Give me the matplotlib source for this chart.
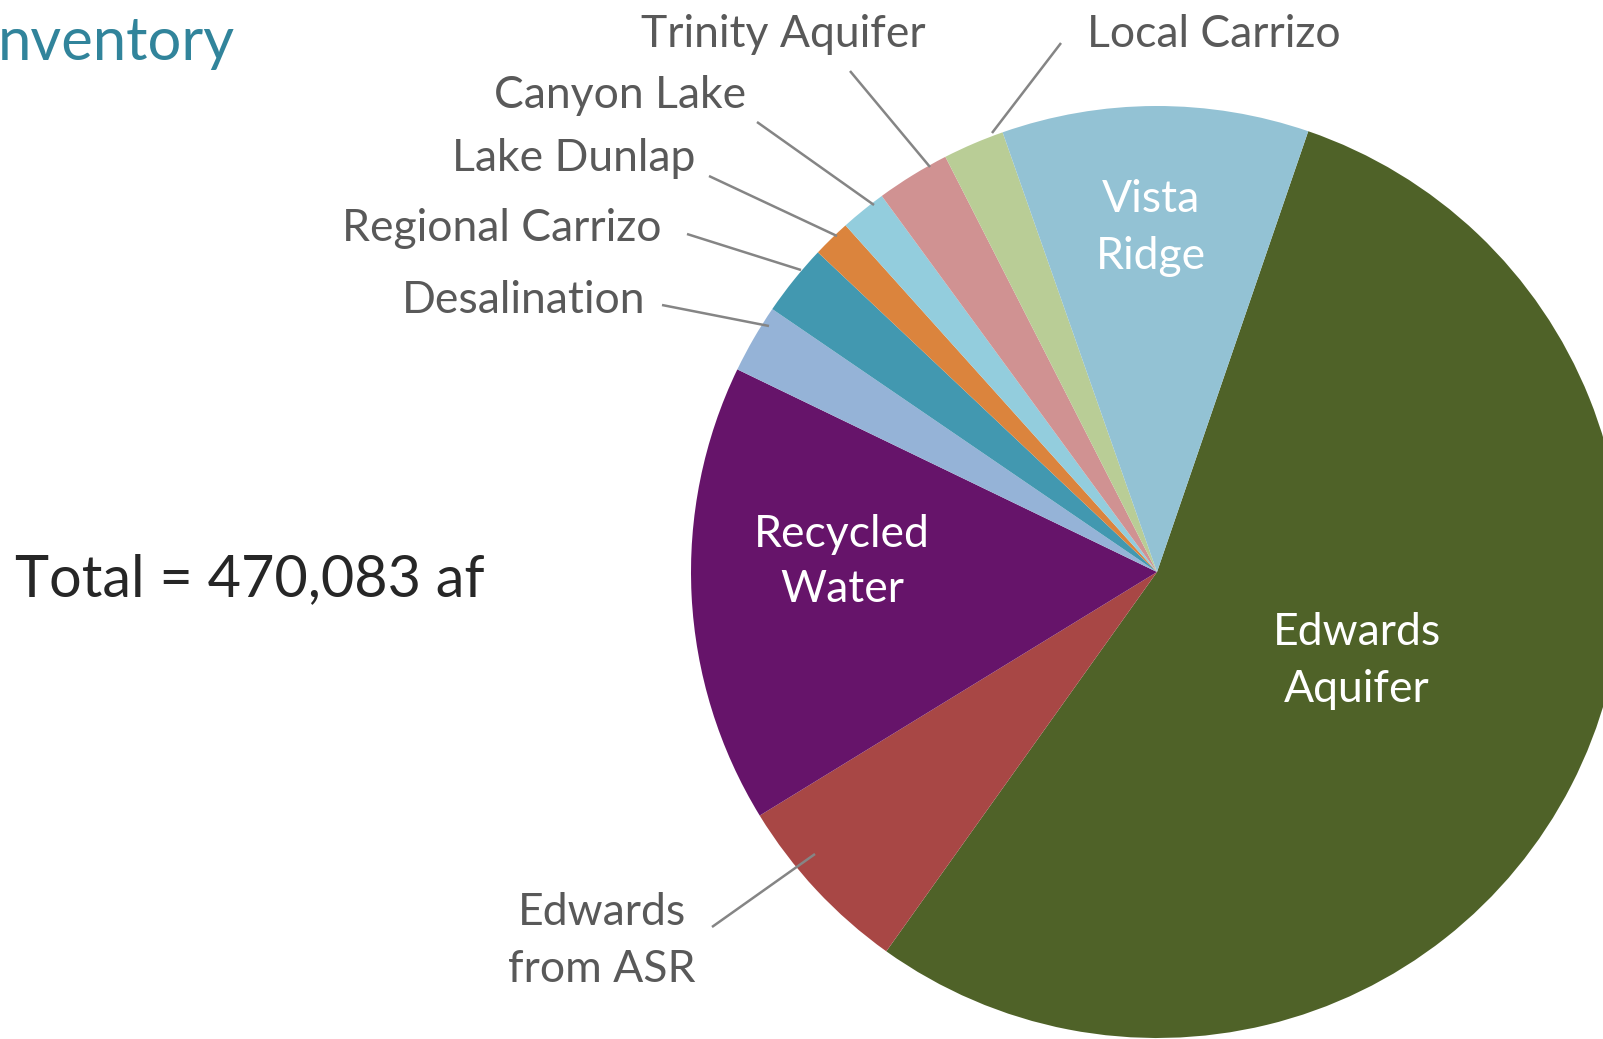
import matplotlib
matplotlib.use("Agg")
import matplotlib.pyplot as plt

# ---- data ----
sources = ["Edwards\nAquifer", "Edwards\nfrom ASR", "Recycled\nWater", "Desalination",
           "Regional Carrizo", "Lake Dunlap", "Canyon Lake", "Trinity Aquifer",
           "Local Carrizo", "Vista\nRidge"]
acre_feet = [256683, 30000, 74800, 11200, 11700, 6200, 7500, 12000, 10000, 50000]
colors = ["#4F6228", "#A84745", "#66146A", "#95B3D7", "#4298B0", "#DB843D",
          "#93CDDD", "#D09292", "#B9CD96", "#93C2D4"]
total_text = "Total = 470,083 af"
title_text = "nventory"

# ---- layout (pixel coords, y from top) ----
W, H = 1603, 1039
CX, CY, R = 1157, 572, 466
START = 71.06

inside = {  # center x, baselines
    "Edwards\nAquifer": (1357, [645, 702]),
    "Edwards\nfrom ASR": (602, [925, 982]),
    "Recycled\nWater": (842, [547, 602]),
    "Vista\nRidge": (1151, [212, 269]),
}
inside_color = {"Edwards\nAquifer": "white", "Recycled\nWater": "white",
                "Vista\nRidge": "white", "Edwards\nfrom ASR": "#595959"}
outside = {  # x, baseline, ha
    "Trinity Aquifer": (783, 47, "center"),
    "Local Carrizo": (1214, 47, "center"),
    "Canyon Lake": (746, 108, "right"),
    "Lake Dunlap": (695, 171, "right"),
    "Regional Carrizo": (661, 241, "right"),
    "Desalination": (645, 313, "right"),
}
leaders = {
    "Local Carrizo": ((1061, 43), (992, 133)),
    "Trinity Aquifer": ((850, 71), (930, 167)),
    "Canyon Lake": ((757, 122), (874, 205)),
    "Lake Dunlap": ((709, 176), (837, 236)),
    "Regional Carrizo": ((687, 234), (801, 270)),
    "Desalination": ((662, 305), (769, 326)),
    "Edwards\nfrom ASR": ((712, 927), (815, 854)),
}

FONT = "Lato"
LABEL_SIZE = 32
GRAY = "#595959"

def py(y):
    return H - y

fig = plt.figure(figsize=(W / 100, H / 100), dpi=100)
ax = fig.add_axes([0, 0, 1, 1])
ax.pie(acre_feet, colors=colors, startangle=START, counterclock=False,
       center=(CX, py(CY)), radius=R, wedgeprops=dict(linewidth=0, antialiased=True))
ax.set_xlim(0, W)
ax.set_ylim(0, H)
ax.set_aspect("auto")
ax.axis("off")

for name, ((x1, y1), (x2, y2)) in leaders.items():
    ax.plot([x1, x2], [py(y1), py(y2)], color="#858585", lw=1.8, solid_capstyle="butt")

for name, (cx, baselines) in inside.items():
    for line, b in zip(name.split("\n"), baselines):
        ax.text(cx, py(b), line, ha="center", va="baseline", fontsize=LABEL_SIZE,
                family=FONT, color=inside_color[name])

for name, (x, b, ha) in outside.items():
    ax.text(x, py(b), name, ha=ha, va="baseline", fontsize=LABEL_SIZE,
            family=FONT, color=GRAY)

ax.text(15, py(596), total_text, ha="left", va="baseline", fontsize=41.5,
        family=FONT, color="#262626")
ax.text(-2, py(60), title_text, ha="left", va="baseline", fontsize=43,
        family=FONT, color="#31849B")

fig.savefig("out.png", dpi=100)
